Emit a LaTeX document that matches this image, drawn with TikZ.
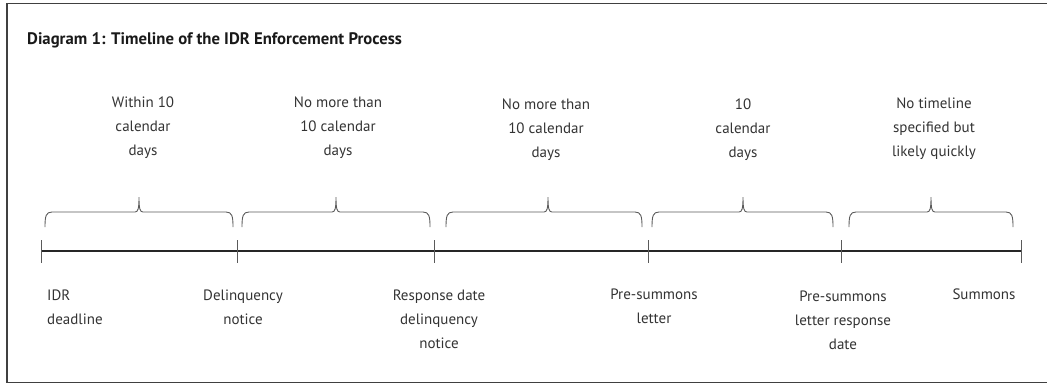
\documentclass[tikz,border=0pt]{standalone}
\usepackage{fontspec}
\setmainfont{PT Sans}
\usepackage{tikz}
\usetikzlibrary{positioning}

\definecolor{txtgray}{HTML}{333333}
\definecolor{bracegray}{HTML}{5A5A5A}

% curly brace over one period: left end, tip, right end
\newcommand\tlbrace[3]{%
  \draw[brc] (#1,227) .. controls (#1,216) and (#1+1,212) .. (#1+7,212)
    -- (#2-4,212) .. controls (#2-1,212) and (#2,209) .. (#2,197)
    .. controls (#2,209) and (#2+1,212) .. (#2+4,212)
    -- (#3-7,212) .. controls (#3-1,212) and (#3,216) .. (#3,227);}

\begin{document}
\begin{tikzpicture}[
      x=1pt, y=-1pt,
      txt/.style = {font=\fontsize{15}{24}\selectfont, text=txtgray, inner sep=0pt, align=center},
      dur/.style = {txt, anchor=north},
      evt/.style = {txt, anchor=north},
      brc/.style = {draw=bracegray, line width=0.9pt},
      tick/.style = {draw=bracegray, line width=1pt},
      tline/.style = {draw=black!85, line width=1.3pt},
      frame/.style = {draw=black!75, line width=1.6pt}
      ]
      \useasboundingbox (0,0) rectangle (1047,384);
      \draw[frame] (1047,3.5) -- (6.8,3.5) -- (6.8,382.5) -- (1047,382.5);

      \node[font=\fontsize{16.7}{19}\selectfont\bfseries, text=black!90, anchor=west, inner sep=0pt] (title) at (27,40)
        {Diagram 1: Timeline of the IDR Enforcement Process};

      % the time line and its marks
      \coordinate (t0) at (41,251);
      \coordinate (t1) at (237,251);
      \coordinate (t2) at (434,251);
      \coordinate (t3) at (648,251);
      \coordinate (t4) at (841,251);
      \coordinate (t5) at (1021,251);
      \draw[tline] (t0) -- (t5);
      \foreach \t in {t0,t1,t2,t3,t4,t5}
        \draw[tick] (\t) ++(0,-11) -- ++(0,23);

      % periods
      \tlbrace{45}{139}{233}
      \tlbrace{242}{336}{430}
      \tlbrace{446}{548}{642}
      \tlbrace{652}{743}{833}
      \tlbrace{849}{931}{1013}
      \node[dur] (d1) at (143,97) {Within 10\\calendar\\days};
      \node[dur] (d2) at (338,97) {No more than\\10 calendar\\days};
      \node[dur] (d3) at (546,99) {No more than\\10 calendar\\days};
      \node[dur] (d4) at (743,99) {10\\calendar\\days};
      \node[dur] (d5) at (934,98) {No timeline\\specified but\\likely quickly};

      % events
      \node[evt, anchor=north west, align=left] (e0) at (47,290) {IDR\\deadline};
      \node[evt] (e1) at (243,290) {Delinquency\\notice};
      \node[evt] (e2) at (439,290) {Response date\\delinquency\\notice};
      \node[evt] (e3) at (654,289) {Pre-summons\\letter};
      \node[evt] (e4) at (843,291) {Pre-summons\\letter response\\date};
      \node[evt] (e5) at (984,289) {Summons};
    \end{tikzpicture}
\end{document}
